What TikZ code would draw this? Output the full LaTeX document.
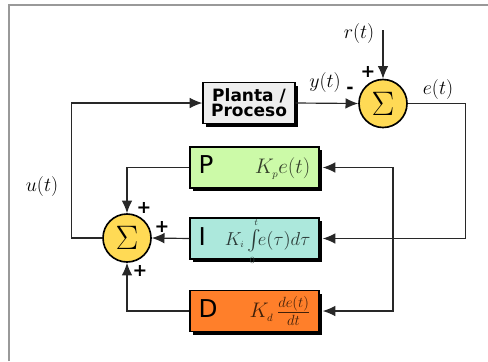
\RequirePackage{fix-cm}
\documentclass[tikz,border=0pt]{standalone}
\usepackage{fontspec}
\usepackage{amsmath}
\newfontfamily\dejavu{DejaVu Sans}
\newcommand\pidletter[1]{{\dejavu\fontsize{21}{21}\selectfont #1}}
\definecolor{plantGray}{RGB}{238,238,238}
\definecolor{propGreen}{RGB}{204,250,168}
\definecolor{intTeal}{RGB}{172,232,220}
\definecolor{derOrange}{RGB}{255,127,42}
\definecolor{sumYellow}{RGB}{255,218,85}
\definecolor{lineGray}{RGB}{40,40,40}
\usetikzlibrary{arrows.meta,positioning,shadows,calc}

\tikzset{
  block/.style={draw=black, line width=1.2pt, minimum height=1.23cm,
                drop shadow={shadow xshift=0.09cm, shadow yshift=-0.09cm, fill=black, opacity=1}},
  pidbox/.style={block, minimum width=3.87cm, text width=3.35cm, inner xsep=0.26cm,
                 align=left, font=\fontsize{18}{20}\selectfont},
  sumnode/.style={circle, draw=black, fill=sumYellow, line width=1.4pt,
                  minimum size=1.44cm, inner sep=0pt, font=\fontsize{29}{31}\selectfont},
  link/.style={draw=lineGray, line width=1pt, -{Latex[length=3.8mm,width=3.2mm]}},
  sig/.style={font=\fontsize{17}{19}\selectfont},
  sgn/.style={font=\dejavu\bfseries\fontsize{15}{15}\selectfont, inner sep=0pt}
}

\begin{document}
\begin{tikzpicture}[x=0.03cm, y=-0.03cm]
  \useasboundingbox (0,0) rectangle (488,361);
  \draw[gray!80, line width=1.2pt] (9,361) -- (9,5) -- (488,5);

  % blocks
  \node[block, fill=plantGray, minimum width=2.76cm, align=center,
        font=\dejavu\bfseries\fontsize{14.5}{13}\selectfont] (plant) at (249,103) {Planta /\\Proceso};
  \node[pidbox, fill=propGreen] (pbox) at (254.5,167.5)
    {\pidletter{P}\hfill\textcolor{propGreen!25!black}{$K_{\scriptscriptstyle p}e(t)$}};
  \node[pidbox, fill=intTeal] (ibox) at (254.5,238.5)
    {\pidletter{I}\hfill\textcolor{intTeal!25!black}{\fontsize{16}{18}\selectfont$K_{\scriptscriptstyle i}\,\smash{\int\limits_{\scriptscriptstyle 0}^{\scriptscriptstyle t}}\! e(\tau)d\tau$}};
  \node[pidbox, fill=derOrange] (dbox) at (254.5,311)
    {\pidletter{D}\hfill\textcolor{derOrange!25!black}{$K_{\scriptscriptstyle d}\,\frac{de(t)}{dt}$}};

  % summing junctions
  \node[sumnode] (tsum) at (383,103.5) {$\Sigma$};
  \node[sumnode] (lsum) at (127,238) {$\Sigma$};

  \coordinate (rin) at (383,30);
  \coordinate (ebranch) at (393,238.5);

  % connectors
  \draw[link] (rin) -- (tsum.north);
  \draw[link] (plant.east) -- (tsum.west);
  \draw[link, shorten >=0.09cm] (tsum.east) -- ++(58,0) |- (ibox.east);
  \draw[link, shorten >=0.09cm] (ebranch) |- (pbox.east);
  \draw[link, shorten >=0.09cm] (ebranch) |- (dbox.east);
  \draw[link] (pbox.west) -| (lsum.north);
  \draw[link] (ibox.west) -- (lsum.east);
  \draw[link] (dbox.west) -| (lsum.south);
  \draw[link] (lsum.west) -- ++(-31,0) |- (plant.west);

  % signal labels
  \node[sig] (rlbl) at (359,34) {$r(t)$};
  \node[sig] (ylbl) at (325,83) {$y(t)$};
  \node[sig] (elbl) at (438,90) {$e(t)$};
  \node[sig] (ulbl) at (42,187) {$u(t)$};

  % signs
  \node[sgn] (tplus) at (368,72) {+};
  \node[sgn] (tminus) at (350,90) {-};
  \node[sgn] (lplusP) at (144,208) {+};
  \node[sgn] (lplusI) at (162,227) {+};
  \node[sgn] (lplusD) at (140,271) {+};
\end{tikzpicture}
\end{document}
